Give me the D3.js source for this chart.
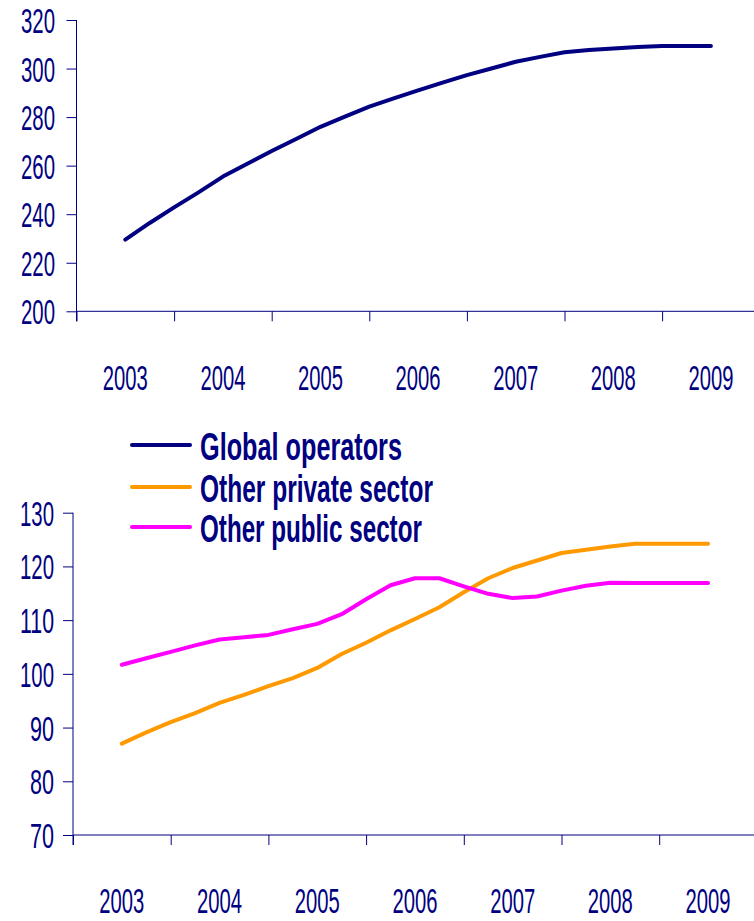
<!DOCTYPE html>
<html>
<head>
<meta charset="utf-8">
<script src="https://cdn.jsdelivr.net/npm/d3@7"></script>
<style>
  html, body { margin: 0; padding: 0; background: #fff; }
  svg { display: block; }
  text { font-family: "Liberation Sans", Arial, sans-serif; fill: #000080; }
</style>
</head>
<body>
<script>
// Year labels on the category axis
const years = [2003, 2004, 2005, 2006, 2007, 2008, 2009];

// Quarterly observation points, 2003 to 2009
const periods = [
  2003.00, 2003.25, 2003.50, 2003.75,
  2004.00, 2004.25, 2004.50, 2004.75,
  2005.00, 2005.25, 2005.50, 2005.75,
  2006.00, 2006.25, 2006.50, 2006.75,
  2007.00, 2007.25, 2007.50, 2007.75,
  2008.00, 2008.25, 2008.50, 2008.75,
  2009.00
];

const globalOperators = [
  229.5, 236.4, 242.8, 249.0, 255.5, 260.8, 266.0, 271.0, 276.0, 280.2,
  284.3, 287.7, 291.0, 294.2, 297.3, 300.0, 302.8, 304.8, 306.7, 307.6,
  308.3, 308.9, 309.3, 309.3, 309.3
];

const otherPrivate = [
  87.0, 89.1, 91.0, 92.7, 94.6, 96.1, 97.7, 99.2, 101.1, 103.7,
  105.8, 108.1, 110.2, 112.4, 115.2, 117.8, 119.7, 121.1, 122.5, 123.1,
  123.7, 124.2, 124.2, 124.2, 124.2
];

const otherPublic = [
  101.7, 102.9, 104.1, 105.3, 106.4, 106.8, 107.25, 108.3, 109.3, 111.1,
  113.9, 116.5, 117.8, 117.8, 116.3, 114.9, 114.1, 114.4, 115.5, 116.4,
  116.95, 116.9, 116.9, 116.9, 116.9
];

const topTicks = [200, 220, 240, 260, 280, 300, 320];
const bottomTicks = [70, 80, 90, 100, 110, 120, 130];

const seriesNames = ["Global operators", "Other private sector", "Other public sector"];
const seriesColors = ["#000080", "#FF9900", "#FF00FF"];

const W = 754, H = 921;
const navy = "#000080";

const svg = d3.select("body").append("svg")
  .attr("width", W).attr("height", H);

// Squeeze a text element horizontally to the given width, keeping its anchor point.
function condense(sel, x, y, width, anchor) {
  sel.attr("x", 0).attr("y", 0).attr("text-anchor", anchor);
  const natural = sel.node().getComputedTextLength();
  const k = width / natural;
  sel.attr("transform", `translate(${x},${y}) scale(${k},1)`);
}

// Draws one panel: value axis, category axis and the series lines.
function panel(opts) {
  const g = svg.append("g");
  const x = d3.scaleLinear()
    .domain([2002.5, 2009.5])
    .range([opts.x0, opts.x0 + 7 * opts.band]);
  const y = d3.scaleLinear()
    .domain(opts.yDomain)
    .range([opts.yBottom, opts.yTop]);

  // value axis
  const yAxis = d3.axisLeft(y)
    .tickValues(opts.yTicks)
    .tickSize(10)
    .tickFormat(d3.format("d"));
  const ya = g.append("g")
    .attr("transform", `translate(${opts.x0},0)`)
    .call(yAxis);
  ya.select(".domain").attr("stroke", navy)
    .attr("d", `M0,${opts.yTop}V${opts.yBottom + 10}`);
  ya.selectAll(".tick line").attr("stroke", navy);
  ya.selectAll(".tick text")
    .attr("dy", null)
    .attr("font-size", 35)
    .attr("fill", navy)
    .each(function (d) {
      const s = String(d);
      condense(d3.select(this), opts.labelRight - opts.x0, 12.5,
        s.length === 3 ? 34 : 24, "end");
    });

  // category axis: ticks on the year boundaries, labels centred in each year
  const boundaries = [2002.5, 2003.5, 2004.5, 2005.5, 2006.5, 2007.5, 2008.5, 2009.5];
  const xAxis = d3.axisBottom(x)
    .tickValues(boundaries)
    .tickSize(10)
    .tickFormat("");
  const xa = g.append("g")
    .attr("transform", `translate(0,${opts.yBottom})`)
    .call(xAxis);
  xa.select(".domain").attr("stroke", navy)
    .attr("d", `M${opts.x0},0H${W}`);
  xa.selectAll(".tick line").attr("stroke", navy);

  g.selectAll(".yearLabel")
    .data(years)
    .join("text")
    .attr("class", "yearLabel")
    .attr("font-size", 35)
    .text(d => d)
    .each(function (d) {
      condense(d3.select(this), x(d), opts.yearBaseline, 45, "middle");
    });

  const line = d3.line()
    .x((d, i) => x(periods[i]))
    .y(d => y(d));

  opts.series.forEach(s => {
    g.append("path")
      .datum(s.values)
      .attr("fill", "none")
      .attr("stroke", s.color)
      .attr("stroke-width", 4)
      .attr("stroke-linejoin", "round")
      .attr("stroke-linecap", "round")
      .attr("d", line);
  });
}

panel({
  x0: 76.5, band: 97.6,
  yTop: 20, yBottom: 311.3,
  yDomain: [200, 320], yTicks: topTicks,
  labelRight: 55, yearBaseline: 390,
  series: [{ values: globalOperators, color: seriesColors[0] }]
});

panel({
  x0: 73, band: 97.7,
  yTop: 512.7, yBottom: 835,
  yDomain: [70, 130], yTicks: bottomTicks,
  labelRight: 54, yearBaseline: 913,
  series: [
    { values: otherPrivate, color: seriesColors[1] },
    { values: otherPublic, color: seriesColors[2] }
  ]
});

// legend
const legendRows = [445, 487, 527];
const legendWidths = [202, 233, 222];
const legend = svg.append("g");
seriesNames.forEach((name, i) => {
  legend.append("line")
    .attr("x1", 132).attr("x2", 190)
    .attr("y1", legendRows[i]).attr("y2", legendRows[i])
    .attr("stroke", seriesColors[i])
    .attr("stroke-width", 4)
    .attr("stroke-linecap", "round");
  const t = legend.append("text")
    .attr("font-size", 39)
    .attr("font-weight", "bold")
    .text(name);
  condense(t, 200, legendRows[i] + 15, legendWidths[i], "start");
});
</script>
</body>
</html>
